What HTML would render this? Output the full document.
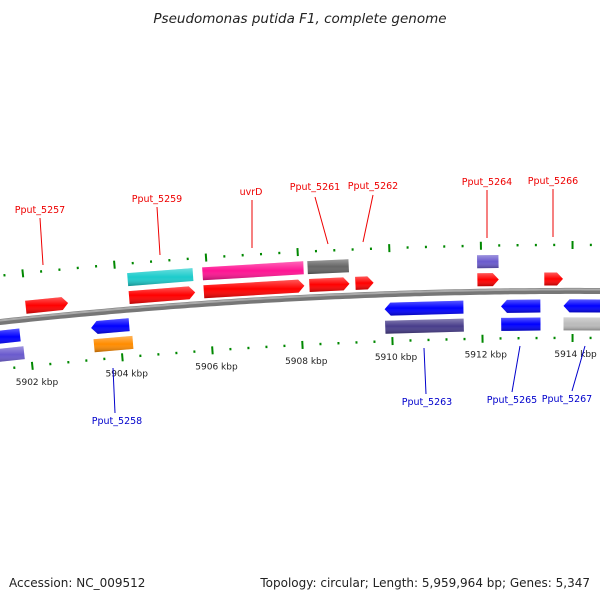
<!DOCTYPE html>
<html><head><meta charset="utf-8"><style>
body{margin:0;background:#fff}
svg{display:block}
text{font-family:"DejaVu Sans","Liberation Sans",sans-serif}
</style></head><body>
<svg id="map" width="600" height="600" viewBox="0 0 600 600" xmlns="http://www.w3.org/2000/svg">
<defs>
<linearGradient id="shade" x1="0" y1="0" x2="0" y2="1">
<stop offset="0" stop-color="#fff" stop-opacity="0.35"/>
<stop offset="0.5" stop-color="#fff" stop-opacity="0"/>
<stop offset="1" stop-color="#000" stop-opacity="0.3"/>
</linearGradient>
</defs>
<text x="300" y="23" font-size="13.5" font-style="italic" text-anchor="middle" fill="#222">Pseudomonas putida F1, complete genome</text>
<text x="9" y="587" font-size="12" fill="#222">Accession: NC_009512</text>
<text x="590" y="587" font-size="12" text-anchor="end" fill="#222">Topology: circular; Length: 5,959,964 bp; Genes: 5,347</text>
<g id="layer"></g>
</svg>
<script>
// axis ticks (kbp)
const tickStart = 5900.4;
const tickEnd = 5915.6;
const majorTicks = [5902, 5904, 5906, 5908, 5910, 5912, 5914];
const majorLabels = ["5902 kbp","5904 kbp","5906 kbp","5908 kbp","5910 kbp","5912 kbp","5914 kbp"];
// genes: start, end (kbp), strand, row, color
const geneStart = [5901.99,5904.26,5905.9,5908.22,5909.23,5911.91,5913.38,5904.26,5905.9,5908.2,5911.91,5901.0,5903.37,5909.85,5912.42,5913.8,5901.0,5903.4,5909.85,5912.42,5913.8];
const geneEnd   = [5902.92,5905.71,5908.11,5909.1,5909.63,5912.38,5913.79,5905.69,5908.11,5909.1,5912.38,5901.8,5904.21,5911.59,5913.29,5914.7,5901.85,5904.26,5911.59,5913.29,5914.7];
const geneStrand= [1,1,1,1,1,1,1,1,1,1,1,-1,-1,-1,-1,-1,-1,-1,-1,-1,-1];
const geneArrow = [1,1,1,1,1,1,1,0,0,0,0,0,1,1,1,1,0,0,0,0,0];
const geneRow   = [1,1,1,1,1,1,1,2,2,2,2,1,1,1,1,1,2,2,2,2,2];
const geneColor = ["#f00","#f00","#f00","#f00","#f00","#f00","#f00","#1ccccc","#ff1493","#666","#6a5acd","#00f","#00f","#00f","#00f","#00f","#6a5acd","#ff8c00","#483d8b","#00f","#bbb"];
// labels
const labelText = ["Pput_5257","Pput_5259","uvrD","Pput_5261","Pput_5262","Pput_5264","Pput_5266","Pput_5258","Pput_5263","Pput_5265","Pput_5267"];
const labelPos  = [[40,213],[157,202],[251,195],[315,190],[373,189],[487,185],[553,184],[117,424],[427,405],[512,403],[567,402]];
const labelLine = [[40,218,43,265],[157,207,160,255],[252,200,252,248],[315,197,328,244],[373,195,363,242],[487,190,487,238],[553,189,553,237],[113,368,115,413],[424,348,426,394],[520,346,512,392],[585,346,572,391]];
const labelColor= ["#e00","#e00","#e00","#e00","#e00","#e00","#e00","#00c","#00c","#00c","#00c"];

const NS="http://www.w3.org/2000/svg";
const layer=document.getElementById('layer');
function U(k){return 27.5+(k-5902)*45.42;}
function base(x){return 322-0.1083*x+9.44e-5*x*x;}
function pt(u,d){const s=-0.1083+2*9.44e-5*u;const n=Math.sqrt(1+s*s);return [u+d*s/n, base(u)-d/n];}
function mk(tag,attrs){const e=document.createElementNS(NS,tag);for(const k in attrs)e.setAttribute(k,attrs[k]);layer.appendChild(e);return e;}
function poly(pts){return pts.map(p=>p[0].toFixed(1)+','+p[1].toFixed(1)).join(' ');}

// backbone
let bp=[];for(let x=-10;x<=610;x+=5)bp.push([x,base(x)]);
let bb=mk('polyline',{points:poly(bp),fill:'none',stroke:'#777','stroke-width':6});


let bb2=mk('polyline',{points:poly(bp.map(p=>[p[0],p[1]-1.5])),fill:'none',stroke:'#aaa','stroke-width':2});



// ticks
const nT=Math.round((tickEnd-tickStart)/0.4);
for(let i=0;i<=nT;i++){
  const k=tickStart+i*0.4;const major=majorTicks.some(m=>Math.abs(m-k)<0.05);
  [[46,1],[-47,-1]].forEach(([d,sg])=>{
    const h=major?4:1.2;const a=pt(U(k),d-h),b=pt(U(k),d+h);
    const l=mk('line',{x1:a[0],y1:a[1],x2:b[0],y2:b[1],stroke:'#080','stroke-width':2});
    
    
  });
}
majorTicks.forEach((k,i)=>{
  const p=pt(U(k),-63);
  const t=mk('text',{x:p[0]+3,y:p[1]+3,'font-size':9,'text-anchor':'middle',fill:'#222'});
  t.textContent=majorLabels[i];
  
  
});

// genes
for(let i=0;i<geneStart.length;i++){
  const u1=U(geneStart[i]),u2=U(geneEnd[i]),s=geneStrand[i];
  const dc=s>0?(geneRow[i]==1?12:30):(geneRow[i]==1?-15:-33);
  const h=6.5;let pts;
  if(!geneArrow[i]){pts=[pt(u1,dc+h),pt(u2,dc+h),pt(u2,dc-h),pt(u1,dc-h)];}
  else if(s>0){const a=u2-6;pts=[pt(u1,dc+h),pt(a,dc+h),pt(u2,dc),pt(a,dc-h),pt(u1,dc-h)];}
  else{const a=u1+6;pts=[pt(a,dc+h),pt(u2,dc+h),pt(u2,dc-h),pt(a,dc-h),pt(u1,dc)];}
  const g=mk('polygon',{points:poly(pts),fill:geneColor[i]});
  
  
  const g2=mk('polygon',{points:poly(pts),fill:'url(#shade)'});
  
  
}

// labels
labelText.forEach((txt,i)=>{
  const L=labelLine[i];
  const l=mk('line',{x1:L[0],y1:L[1],x2:L[2],y2:L[3],stroke:labelColor[i],'stroke-width':1});
  
  
  const t=mk('text',{x:labelPos[i][0],y:labelPos[i][1],'font-size':9.5,'text-anchor':'middle',fill:labelColor[i]});
  t.textContent=txt;
  
  
});
</script>
</body></html>
